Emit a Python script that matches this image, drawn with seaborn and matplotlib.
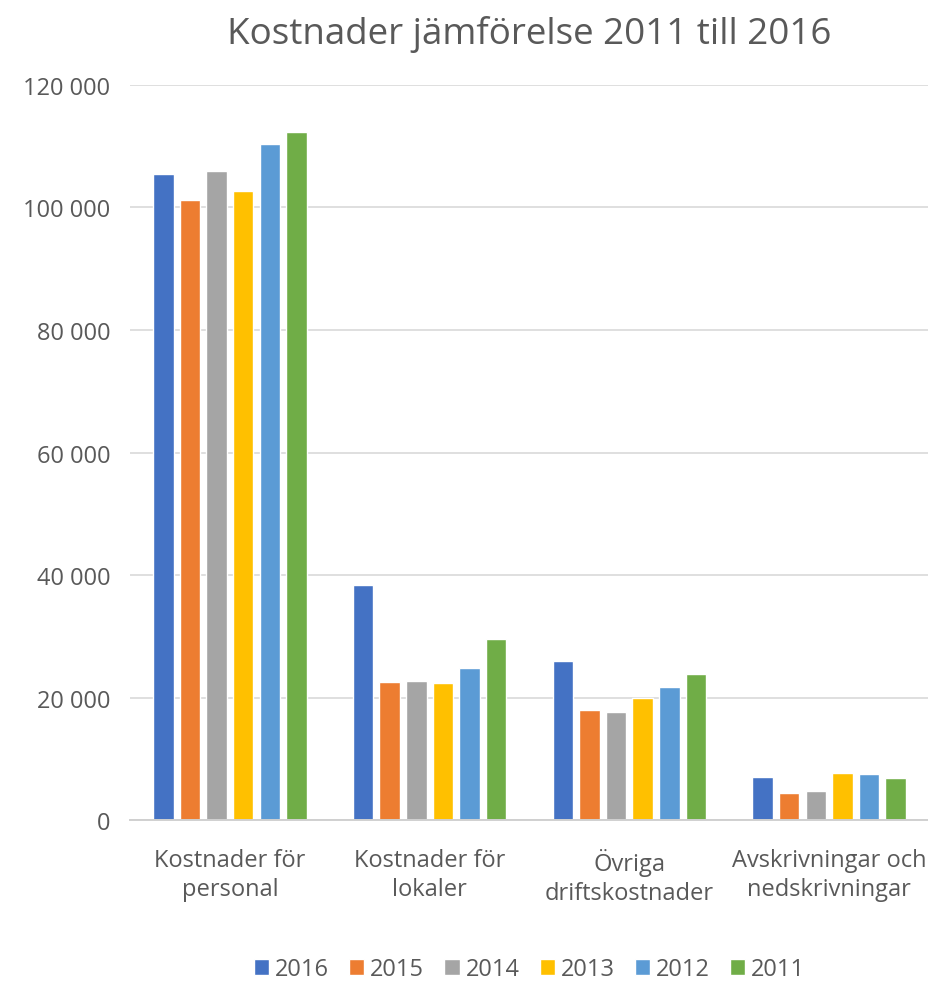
import pandas as pd
import matplotlib.pyplot as plt
import seaborn as sns
from matplotlib.ticker import FuncFormatter

# Data
kategorier = ["Kostnader för\npersonal", "Kostnader för\nlokaler",
              "Övriga\ndriftskostnader", "Avskrivningar och\nnedskrivningar"]
ar = ["2016", "2015", "2014", "2013", "2012", "2011"]
v2016 = [105500, 38400, 25900, 7000]
v2015 = [101200, 22600, 17900, 4500]
v2014 = [105900, 22700, 17600, 4700]
v2013 = [102700, 22400, 19900, 7700]
v2012 = [110300, 24800, 21700, 7500]
v2011 = [112300, 29600, 23800, 6900]
farger = ["#4472C4", "#ED7D31", "#A5A5A5", "#FFC000", "#5B9BD5", "#70AD47"]

serier = [v2016, v2015, v2014, v2013, v2012, v2011]
rows = []
for a, vals in zip(ar, serier):
    for k, v in zip(kategorier, vals):
        rows.append({"kategori": k, "ar": a, "kostnad": v})
df = pd.DataFrame(rows)

sns.set_style("white")
plt.rcParams['font.family'] = ['Open Sans', 'DejaVu Sans']
textfarg = "#595959"

fig = plt.figure(figsize=(9.29, 9.87), dpi=100)
ax = fig.add_axes([0.140, 0.168, 0.860, 0.745])

sns.barplot(data=df, x="kategori", y="kostnad", hue="ar", hue_order=ar,
            palette=farger, width=0.8, gap=0.23, saturation=1,
            legend=True, ax=ax)

ax.set_ylim(0, 120000)
ax.set_yticks(range(0, 120001, 20000))
ax.yaxis.set_major_formatter(FuncFormatter(lambda x, p: f"{int(x):,}".replace(",", " ")))
ax.grid(axis='y', color="#d9d9d9", linewidth=1.2)
ax.set_axisbelow(True)
for s in ["top", "right", "left"]:
    ax.spines[s].set_visible(False)
ax.spines["bottom"].set_color("#d0d0d0")
ax.spines["bottom"].set_linewidth(1.4)
ax.set_xlabel("")
ax.set_ylabel("")
ax.tick_params(axis='y', length=0, labelsize=17, colors=textfarg, pad=14)
ax.tick_params(axis='x', length=0, labelsize=17, colors=textfarg, pad=20)
for lbl in ax.get_xticklabels():
    lbl.set_linespacing(1.3)
ax.set_xlim(-0.5, 3.5)

ax.set_title("Kostnader jämförelse 2011 till 2016", fontsize=26.5, color=textfarg, pad=30)

leg = ax.legend(loc="upper center", bbox_to_anchor=(0.5, -0.170), ncol=6,
                frameon=False, fontsize=17, handlelength=0.65, handleheight=0.65,
                columnspacing=0.85, handletextpad=0.25, borderpad=0.0)
for t in leg.get_texts():
    t.set_color(textfarg)

plt.savefig("out.png", dpi=100)
